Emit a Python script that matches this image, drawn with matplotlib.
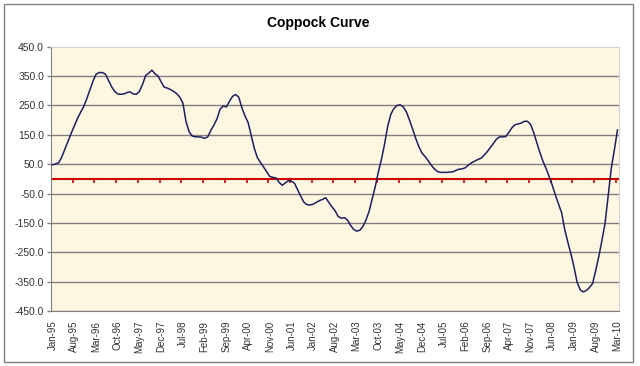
import matplotlib
matplotlib.use('Agg')
import matplotlib.pyplot as plt
from matplotlib.ticker import FormatStrFormatter
from matplotlib.patches import Rectangle

plt.rcParams['font.family'] = ['Liberation Sans', 'DejaVu Sans']
plt.rcParams['axes.unicode_minus'] = False

# monthly Coppock values, Jan-95 .. Mar-10
coppock = [
    48, 51, 55, 75, 102, 130, 155, 180, 205, 226, 245, 272,            # 1995
    302, 332, 356, 362, 362, 357, 336, 314, 298, 289, 288, 289,        # 1996
    294, 296, 289, 288, 298, 322, 352, 360, 370, 358, 350, 330,        # 1997
    312, 309, 304, 298, 290, 278, 258, 195, 160, 146, 143, 143,        # 1998
    142, 138, 143, 165, 183, 205, 238, 248, 245, 264, 281, 287,        # 1999
    278, 242, 214, 192, 148, 104, 72, 56, 40, 24, 8, 5,                # 2000
    3, -12, -22, -14, -6, -8, -16, -38, -60, -80, -88, -89,            # 2001
    -86, -80, -74, -70, -64, -80, -95, -108, -128, -134, -132, -140,   # 2002
    -158, -172, -178, -175, -162, -140, -110, -68, -25, 25, 68, 120,   # 2003
    180, 220, 240, 250, 252, 245, 228, 200, 170, 138, 110, 88,         # 2004
    76, 62, 47, 34, 25, 22, 22, 22, 23, 24, 29, 33,                    # 2005
    34, 38, 47, 55, 60, 66, 70, 80, 92, 106, 120, 135,                 # 2006
    143, 143, 144, 158, 174, 184, 187, 190, 196, 196, 186, 158,        # 2007
    124, 90, 60, 35, 8, -22, -55, -85, -115, -172, -215, -255,         # 2008
    -300, -352, -378, -385, -380, -370, -356, -312, -264, -210, -152, -58,  # 2009
    35, 98, 166,                                                       # 2010
]

tick_labels = ['Jan-95', 'Aug-95', 'Mar-96', 'Oct-96', 'May-97', 'Dec-97', 'Jul-98',
               'Feb-99', 'Sep-99', 'Apr-00', 'Nov-00', 'Jun-01', 'Jan-02', 'Aug-02',
               'Mar-03', 'Oct-03', 'May-04', 'Dec-04', 'Jul-05', 'Feb-06', 'Sep-06',
               'Apr-07', 'Nov-07', 'Jun-08', 'Jan-09', 'Aug-09', 'Mar-10']
y_ticks = [-450, -350, -250, -150, -50, 50, 150, 250, 350, 450]

months = list(range(len(coppock)))
label_pos = months[::7]

fig = plt.figure(figsize=(6.4, 3.66), dpi=100)
ax = fig.add_axes([51 / 640, 1 - 311 / 366, 568 / 640, 264.3 / 366])

# chart border
fig.patches.append(Rectangle((4 / 640, 4 / 366), 629 / 640, 358 / 366,
                             transform=fig.transFigure, fill=False,
                             edgecolor='#808080', lw=1))

ax.set_facecolor('#FDF7E2')
for y in y_ticks[:-1]:
    ax.axhline(y, color='#7F7F7F', lw=1, zorder=1)

# category axis crossing at zero, with its tick marks
ax.axhline(0, color='#D00000', lw=1.5, zorder=2)
ax.plot([p - 0.5 for p in label_pos], [0] * len(label_pos), ls='none',
        marker=3, ms=3, mew=1.2, color='#D00000', zorder=2)

ax.plot(months, coppock, color='#1E1E60', lw=1.1, solid_joinstyle='round', zorder=3)

ax.set_xlim(-0.5, len(coppock) - 0.5)
ax.set_ylim(-450, 450)
ax.set_yticks(y_ticks)
ax.yaxis.set_major_formatter(FormatStrFormatter('%.1f'))
ax.set_xticks(label_pos, tick_labels, rotation=90)

ax.tick_params(axis='y', length=3, width=1, color='#808080', labelsize=7.5,
               labelcolor='#333333', pad=2)
ax.tick_params(axis='x', length=0, labelsize=7, labelcolor='#333333', pad=7)

ax.spines['left'].set_color('#808080')
ax.spines['bottom'].set_color('#808080')
ax.spines['top'].set_color('#D4D4D4')
ax.spines['right'].set_color('#D4D4D4')

fig.text(0.498, 1 - 23 / 366, 'Coppock Curve', ha='center', va='center',
         fontsize=10, fontweight='bold')

plt.savefig('out.png', dpi=100)
